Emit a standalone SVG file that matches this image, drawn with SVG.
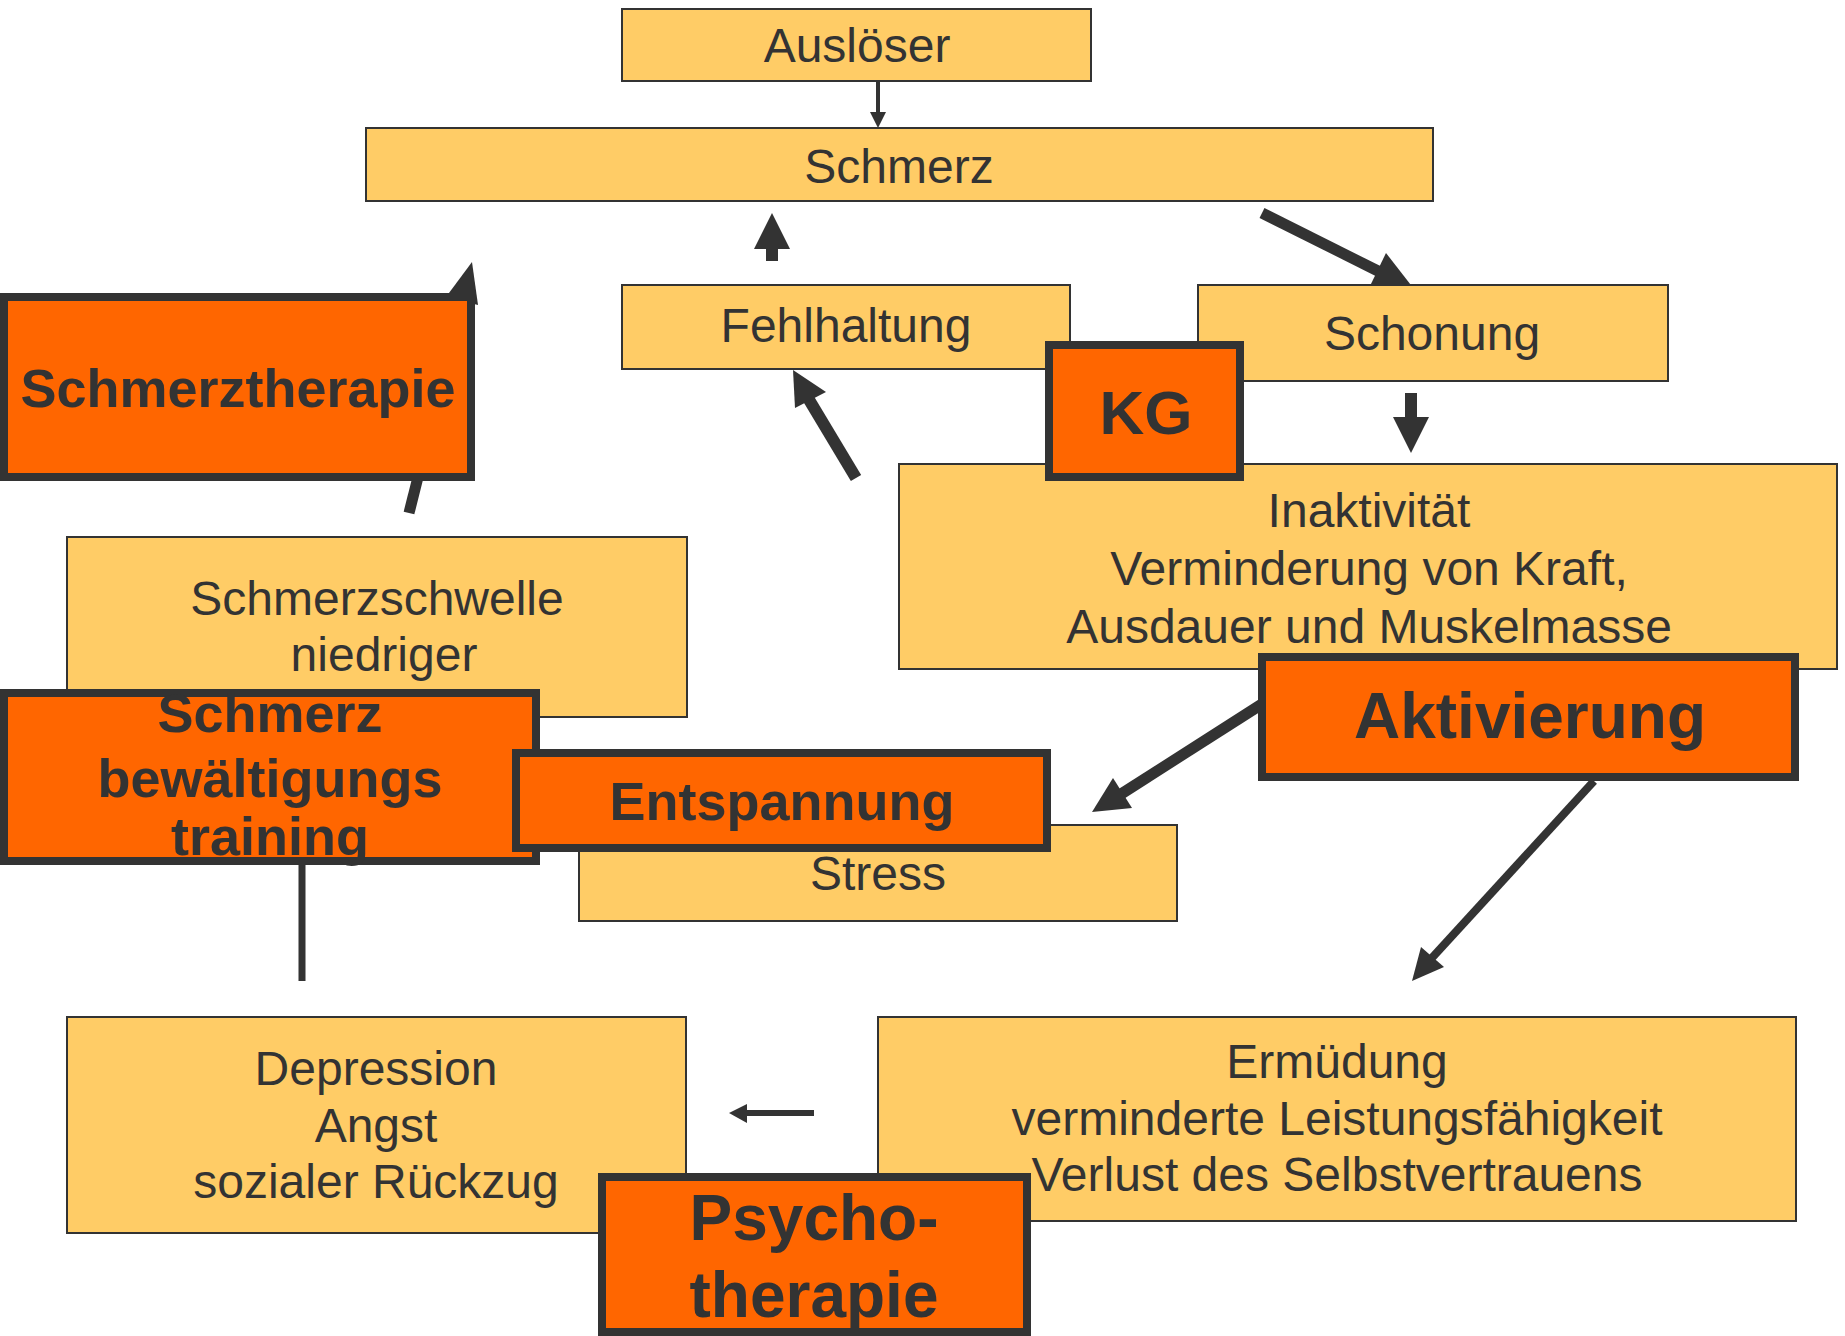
<svg xmlns="http://www.w3.org/2000/svg" width="1845" height="1336" viewBox="0 0 1845 1336">
<style>
  .box { fill: #FFCC66; stroke: #333333; stroke-width: 2; }
  .tbox { fill: #FF6600; stroke: #333333; stroke-width: 8; }
  .t { font-family: "Liberation Sans", Arial, sans-serif; font-size: 48px; fill: #333333; text-anchor: middle; }
  .b { font-family: "Liberation Sans", Arial, sans-serif; font-weight: bold; fill: #333333; text-anchor: middle; }
  .ln { stroke: #333333; fill: none; }
  .ah { fill: #333333; stroke: none; }
</style>
<rect width="1845" height="1336" fill="#FFFFFF"/>
<g id="connectors">
  <!-- Auslöser -> Schmerz -->
  <line class="ln" x1="878" y1="81" x2="878" y2="113" stroke-width="4"/>
  <polygon class="ah" points="870,112 886,112 878,128"/>
  <!-- Fehlhaltung -> Schmerz -->
  <line class="ln" x1="772" y1="248" x2="772" y2="261" stroke-width="12"/>
  <polygon class="ah" points="754,249 790,249 772,213"/>
  <!-- Schmerz -> Schonung -->
  <line class="ln" x1="1262" y1="213" x2="1380" y2="272" stroke-width="11"/>
  <polygon class="ah" points="1386,253 1370,286 1414,289"/>
  <!-- -> Fehlhaltung -->
  <line class="ln" x1="856" y1="478" x2="808" y2="398" stroke-width="12"/>
  <polygon class="ah" points="795,408 826,392 793,370"/>
  <!-- Schonung -> Inaktivität -->
  <line class="ln" x1="1411" y1="393" x2="1411" y2="418" stroke-width="12"/>
  <polygon class="ah" points="1393,417 1429,417 1411,453"/>
  <!-- Schmerzschwelle -> Schmerz -->
  <line class="ln" x1="409" y1="513" x2="463" y2="298" stroke-width="11"/>
  <polygon class="ah" points="446,297 478,305 472,262"/>
  <!-- Schmerzbewältigung line -->
  <line class="ln" x1="302" y1="840" x2="302" y2="981" stroke-width="7"/>
  <!-- Aktivierung -> Entspannung/Stress -->
  <line class="ln" x1="1262" y1="704" x2="1118" y2="796" stroke-width="11"/>
  <polygon class="ah" points="1113,778 1132,808 1092,812"/>
  <!-- Aktivierung -> Ermüdung -->
  <line class="ln" x1="1594" y1="781" x2="1430" y2="960" stroke-width="8"/>
  <polygon class="ah" points="1421,947 1444,967 1412,981"/>
  <!-- Ermüdung -> Depression -->
  <line class="ln" x1="814" y1="1113" x2="745" y2="1113" stroke-width="6"/>
  <polygon class="ah" points="747,1104 747,1123 729,1113"/>
</g>
<g id="node-ausloeser">
  <rect class="box" x="622" y="9" width="469" height="72"/>
  <text class="t" x="857" y="62">Auslöser</text>
</g>
<g id="node-schmerz">
  <rect class="box" x="366" y="128" width="1067" height="73"/>
  <text class="t" x="899" y="183">Schmerz</text>
</g>
<g id="node-fehlhaltung">
  <rect class="box" x="622" y="285" width="448" height="84"/>
  <text class="t" x="846" y="342">Fehlhaltung</text>
</g>
<g id="node-schonung">
  <rect class="box" x="1198" y="285" width="470" height="96"/>
  <text class="t" x="1432" y="350">Schonung</text>
</g>
<g id="node-inaktivitaet">
  <rect class="box" x="899" y="464" width="938" height="205"/>
  <text class="t" x="1369" y="527">Inaktivität</text>
  <text class="t" x="1369" y="585">Verminderung von Kraft,</text>
  <text class="t" x="1369" y="643">Ausdauer und Muskelmasse</text>
</g>
<g id="node-schmerzschwelle">
  <rect class="box" x="67" y="537" width="620" height="180"/>
  <text class="t" x="377" y="615">Schmerzschwelle</text>
  <text class="t" x="384" y="671">niedriger</text>
</g>
<g id="node-stress">
  <rect class="box" x="579" y="825" width="598" height="96"/>
  <text class="t" x="878" y="890">Stress</text>
</g>
<g id="node-depression">
  <rect class="box" x="67" y="1017" width="619" height="216"/>
  <text class="t" x="376" y="1085">Depression</text>
  <text class="t" x="376" y="1142">Angst</text>
  <text class="t" x="376" y="1198">sozialer Rückzug</text>
</g>
<g id="node-ermuedung">
  <rect class="box" x="878" y="1017" width="918" height="204"/>
  <text class="t" x="1337" y="1078">Ermüdung</text>
  <text class="t" x="1337" y="1135">verminderte Leistungsfähigkeit</text>
  <text class="t" x="1337" y="1191">Verlust des Selbstvertrauens</text>
</g>
<g id="node-schmerztherapie">
  <rect class="tbox" x="4" y="297" width="467" height="180"/>
  <text class="b" x="238" y="407" font-size="54">Schmerztherapie</text>
</g>
<g id="node-kg">
  <rect class="tbox" x="1049" y="345" width="191" height="132"/>
  <text class="b" x="1146" y="434" font-size="62">KG</text>
</g>
<g id="node-schmerzbewaeltigung">
  <rect class="tbox" x="4" y="693" width="532" height="168"/>
  <text class="b" x="270" y="732" font-size="54">Schmerz</text>
  <text class="b" x="270" y="797" font-size="54">bewältigungs</text>
  <text class="b" x="270" y="855" font-size="54">training</text>
</g>
<g id="node-entspannung">
  <rect class="tbox" x="516" y="753" width="531" height="95"/>
  <text class="b" x="782" y="820" font-size="54">Entspannung</text>
</g>
<g id="node-aktivierung">
  <rect class="tbox" x="1262" y="657" width="533" height="120"/>
  <text class="b" x="1530" y="738" font-size="64">Aktivierung</text>
</g>
<g id="node-psychotherapie">
  <rect class="tbox" x="602" y="1177" width="425" height="155"/>
  <text class="b" x="814" y="1240" font-size="64">Psycho-</text>
  <text class="b" x="814" y="1317" font-size="64">therapie</text>
</g>
</svg>
